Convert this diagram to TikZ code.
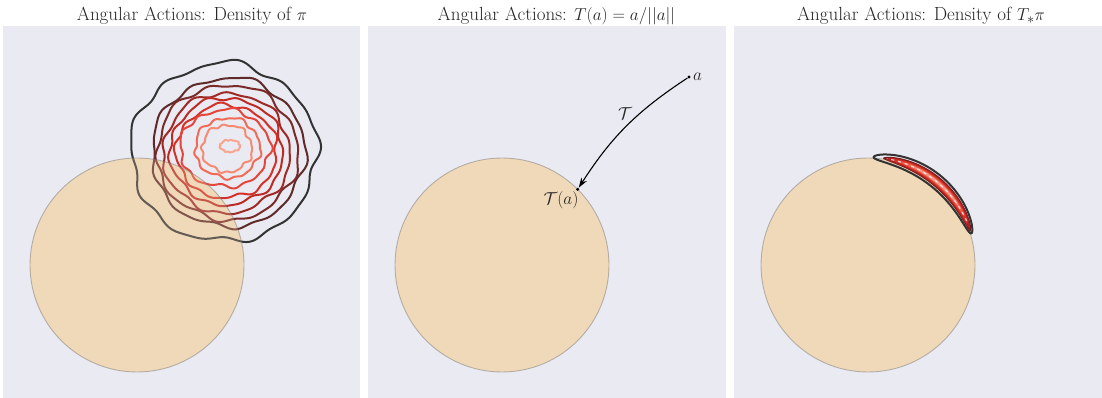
\documentclass[tikz,border=0pt]{standalone}
\usepackage{tikz}
\usepackage{amsmath}
\usetikzlibrary{arrows.meta,positioning,calc}
\definecolor{panelbg}{HTML}{EAEAF2}
\definecolor{disc}{HTML}{EFD9B9}
\definecolor{discedge}{HTML}{6E6E6E}
\definecolor{txt}{HTML}{262626}
\definecolor{lvA}{HTML}{333333}
\definecolor{lvB}{HTML}{5E2A2A}
\definecolor{lvC}{HTML}{7A2A28}
\definecolor{lvD}{HTML}{9E2A26}
\definecolor{lvE}{HTML}{BE2B25}
\definecolor{lvF}{HTML}{D43128}
\definecolor{lvG}{HTML}{E5463A}
\definecolor{lvH}{HTML}{F06A55}
\definecolor{lvI}{HTML}{F58B72}
\definecolor{lvJ}{HTML}{F8A48E}
\definecolor{cfA}{HTML}{7A1E1E}
\definecolor{cfB}{HTML}{B22222}
\definecolor{cfC}{HTML}{D8352A}
\definecolor{cfD}{HTML}{EE5E4A}
\definecolor{cfE}{HTML}{F49A85}

\begin{document}
\begin{tikzpicture}[x=1pt,y=1pt,
    panel/.style={fill=panelbg,draw=none},
    disk/.style={fill=disc,draw=discedge,draw opacity=0.45,line width=0.9pt},
    rim/.style={fill=disc,fill opacity=0.25,draw=discedge,draw opacity=0.45,line width=0.9pt},
    ttl/.style={font=\fontsize{19}{23}\selectfont,text=txt,anchor=base,inner sep=0pt},
    lbl/.style={font=\fontsize{16}{19}\selectfont,text=txt,inner sep=1pt},
    lvl/.style={line width=2pt,line join=round},
    dot/.style={circle,fill=black,inner sep=0pt,minimum size=3.4pt},
    ar/.style={-{Stealth[length=10pt,width=6.5pt]},black,line width=1.1pt},
  ]
    \useasboundingbox (0,0) rectangle (1102,398);
    \fill[panel] (3,0) rectangle (360,372);
    \fill[panel] (368,0) rectangle (726,372);
    \fill[panel] (734,0) rectangle (1102,372);

    \node[ttl] (t1) at (192,377.3) {Angular Actions: Density of $\pi$};
    \node[ttl] (t2) at (556.5,377.3) {Angular Actions: $T(a)=a/||a||$};
    \node[ttl] (t3) at (921,377.3) {Angular Actions: Density of $T_{*}\pi$};

    \fill[disc] (137,133) circle (107);
    \foreach \cx/\cy/\rx/\ry/\am/\ph/\col in {
        224/245.5/93/89/3.4/20/lvA, 228.5/245.5/76.5/74.5/2.6/70/lvB,
        227.5/245.5/70.5/67.5/2.6/130/lvC, 226.5/245/63.5/60/2.4/200/lvD,
        226.5/246.5/56.5/53.5/2.2/250/lvE, 226.5/246.5/50.5/46.5/2.2/310/lvF,
        225/249.5/45/38.5/2.2/40/lvG, 227.5/250/32.5/30/1.8/100/lvH,
        227/249.5/25/23.5/1.6/160/lvI, 230/252/10/6/0.6/220/lvJ}
      \draw[lvl,draw=\col] plot[smooth cycle,domain=0:357,samples=120,variable=\t]
        ({\cx+(\rx+\am*(0.5*sin(5*\t+\ph)+0.6*sin(9*\t+2*\ph)+0.4*sin(14*\t+3*\ph)))*cos(\t)},
         {\cy+(\ry+\am*(0.5*sin(5*\t+\ph)+0.6*sin(9*\t+2*\ph)+0.4*sin(14*\t+3*\ph)))*sin(\t)});
    \draw[rim] (137,133) circle (107);

    \draw[disk] (502,133) circle (107);
    \node[dot] (a) at (689,321) {};
    \node[dot] (ta) at (577.7,208.7) {};
    \node[lbl,anchor=west,xshift=1pt] (alab) at (a.east) {$a$};
    \node[lbl] (talab) at (561,198) {$\mathcal{T}(a)$};
    \node[lbl] (tlab) at (625,284) {$\mathcal{T}$};
    \draw[ar] (a) to[bend right=12] (ta);

    \draw[disk] (868,133) circle (107);
    \foreach \dt/\dr/\col in {32/5.2/cfA,30/4.2/cfB,27/3.2/cfC,23/2.2/cfD,17/1.2/cfE}
      \fill[\col] plot[smooth cycle,domain=0:355,samples=72,variable=\t]
        ({868+(108+\dr*sin(\t))*cos(50+\dt*cos(\t))},
         {133+(108+\dr*sin(\t))*sin(50+\dt*cos(\t))});
    \draw[lvl,lvA] plot[smooth cycle,domain=0:355,samples=72,variable=\t]
        ({868+(108+7*sin(\t))*cos(52+35*cos(\t))},
         {133+(108+7*sin(\t))*sin(52+35*cos(\t))});
    \draw[white,opacity=0.75,line width=1.2pt,dash pattern=on 3pt off 4pt]
      plot[smooth,domain=24:80,samples=20,variable=\t] ({868+108*cos(\t)},{133+108*sin(\t)});
  \end{tikzpicture}
\end{document}
